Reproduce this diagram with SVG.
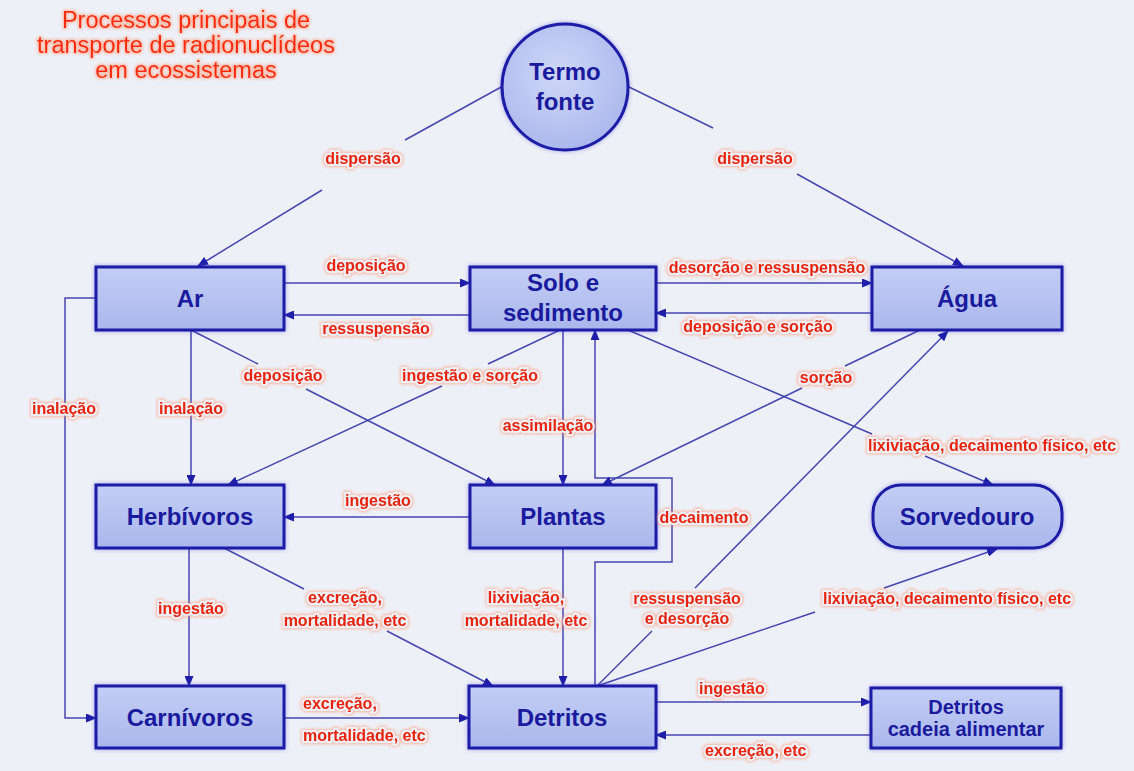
<svg xmlns="http://www.w3.org/2000/svg" width="1134" height="771" viewBox="0 0 1134 771">
<defs>
<linearGradient id="gBox" x1="0" y1="0" x2="0" y2="1">
<stop offset="0" stop-color="#c3cdf5"/>
<stop offset="1" stop-color="#aab7ec"/>
</linearGradient>
<radialGradient id="gCirc" cx="0.45" cy="0.4" r="0.65">
<stop offset="0" stop-color="#d0d8f8"/>
<stop offset="1" stop-color="#a9b6ec"/>
</radialGradient>
<filter id="glowB" x="-10%" y="-20%" width="120%" height="140%">
<feGaussianBlur in="SourceAlpha" stdDeviation="2" result="b"/>
<feFlood flood-color="#3a3ad0" flood-opacity="0.45"/>
<feComposite in2="b" operator="in" result="g"/>
<feMerge><feMergeNode in="g"/><feMergeNode in="SourceGraphic"/></feMerge>
</filter>
<filter id="glowR" x="-10%" y="-40%" width="120%" height="180%">
<feMorphology in="SourceAlpha" operator="dilate" radius="1" result="d"/>
<feGaussianBlur in="d" stdDeviation="1.6" result="b"/>
<feFlood flood-color="#ff8a60" flood-opacity="0.55"/>
<feComposite in2="b" operator="in" result="g"/>
<feMerge><feMergeNode in="g"/><feMergeNode in="SourceGraphic"/></feMerge>
</filter>
<marker id="arr" markerWidth="11" markerHeight="9" refX="10" refY="4.5" orient="auto" markerUnits="userSpaceOnUse">
<path d="M0,0 L11,4.5 L0,9 z" fill="#1e1ea8"/>
</marker>
<style>
.box{fill:url(#gBox);stroke:#1a1aa6;stroke-width:3;filter:url(#glowB)}
.nt{font-family:"Liberation Sans",Arial,sans-serif;font-weight:bold;font-size:24px;fill:#1a1a9e;text-anchor:middle}
.nts{font-family:"Liberation Sans",Arial,sans-serif;font-weight:bold;font-size:20px;fill:#1a1a9e;text-anchor:middle}
.c{fill:none;stroke:#4646b0;stroke-width:1.5}
.a{marker-end:url(#arr)}
.lb{font-family:"Liberation Sans",Arial,sans-serif;font-weight:bold;font-size:16px;fill:#e8240c;text-anchor:middle;stroke:#eef0f7;stroke-width:4;paint-order:stroke;filter:url(#glowR)}
.ls{text-anchor:start}
.tt{font-family:"Liberation Sans",Arial,sans-serif;font-size:23.5px;fill:#ff2a0a;text-anchor:middle;filter:url(#glowR)}
</style>
</defs>
<rect x="0" y="0" width="1134" height="771" fill="#eef0f7"/>

<g id="title">
<text class="tt" x="186" y="28">Processos principais de</text>
<text class="tt" x="186" y="53">transporte de radionuclídeos</text>
<text class="tt" x="186" y="78">em ecossistemas</text>
</g>

<g id="connectors">
<path class="c" d="M503,86 L405,140"/>
<path class="c a" d="M322,190 L198,266"/>
<path class="c" d="M627,86 L713,128"/>
<path class="c a" d="M797,174 L963,266"/>
<path class="c a" d="M284,283 L470,283"/>
<path class="c a" d="M470,315 L284,315"/>
<path class="c a" d="M656,283 L872,283"/>
<path class="c a" d="M872,313 L656,313"/>
<path class="c" d="M191,330 L258,364"/>
<path class="c a" d="M306,389 L495,485"/>
<path class="c" d="M560,330 L488,364"/>
<path class="c a" d="M442,386 L228,485"/>
<path class="c a" d="M191,330 L191,485"/>
<path class="c a" d="M96,298 L65,298 L65,718 L96,718"/>
<path class="c a" d="M563,330 L563,485"/>
<path class="c a" d="M595,686 L595,562 L672,562 L672,478 L595,478 L595,330"/>
<path class="c" d="M920,330 L845,366"/>
<path class="c a" d="M802,388 L602,485"/>
<path class="c" d="M628,330 L872,434"/>
<path class="c a" d="M925,456 L993,485"/>
<path class="c a" d="M470,517 L284,517"/>
<path class="c a" d="M189,548 L189,686"/>
<path class="c" d="M224,548 L304,589"/>
<path class="c a" d="M387,631 L493,686"/>
<path class="c a" d="M563,548 L563,686"/>
<path class="c" d="M597,686 L652,631"/>
<path class="c a" d="M695,588 L948,331"/>
<path class="c" d="M597,686 L815,612"/>
<path class="c a" d="M884,588 L997,549"/>
<path class="c a" d="M283,718 L469,718"/>
<path class="c a" d="M656,702 L871,702"/>
<path class="c a" d="M871,735 L656,735"/>
</g>

<g id="termo-fonte">
<circle cx="565" cy="87" r="63" fill="url(#gCirc)" stroke="#1a1aa6" stroke-width="3" filter="url(#glowB)"/>
<text class="nt" x="565" y="80">Termo</text>
<text class="nt" x="565" y="110">fonte</text>
</g>
<g id="ar">
<rect class="box" x="96" y="267" width="188" height="63"/>
<text class="nt" x="190" y="307">Ar</text>
</g>
<g id="solo">
<rect class="box" x="470" y="267" width="186" height="63"/>
<text class="nt" x="563" y="291">Solo e</text>
<text class="nt" x="563" y="321">sedimento</text>
</g>
<g id="agua">
<rect class="box" x="872" y="267" width="190" height="63"/>
<text class="nt" x="967" y="307">Água</text>
</g>
<g id="herbivoros">
<rect class="box" x="96" y="485" width="188" height="63"/>
<text class="nt" x="190" y="525">Herbívoros</text>
</g>
<g id="plantas">
<rect class="box" x="470" y="485" width="186" height="63"/>
<text class="nt" x="563" y="525">Plantas</text>
</g>
<g id="sorvedouro">
<rect class="box" x="873" y="485" width="189" height="63" rx="28" ry="28"/>
<text class="nt" x="967" y="525">Sorvedouro</text>
</g>
<g id="carnivoros">
<rect class="box" x="96" y="686" width="188" height="62"/>
<text class="nt" x="190" y="726">Carnívoros</text>
</g>
<g id="detritos">
<rect class="box" x="469" y="686" width="187" height="62"/>
<text class="nt" x="562" y="726">Detritos</text>
</g>
<g id="detritos-cadeia">
<rect class="box" x="871" y="688" width="190" height="60"/>
<text class="nts" x="966" y="714">Detritos</text>
<text class="nts" x="966" y="736">cadeia alimentar</text>
</g>

<g id="labels">
<text class="lb" x="363" y="164">dispersão</text>
<text class="lb" x="755" y="164">dispersão</text>
<text class="lb" x="366" y="271">deposição</text>
<text class="lb" x="376" y="334">ressuspensão</text>
<text class="lb" x="767" y="273">desorção e ressuspensão</text>
<text class="lb" x="758" y="332">deposição e sorção</text>
<text class="lb" x="283" y="381">deposição</text>
<text class="lb" x="470" y="381">ingestão e sorção</text>
<text class="lb" x="64" y="414">inalação</text>
<text class="lb" x="191" y="414">inalação</text>
<text class="lb" x="548" y="431">assimilação</text>
<text class="lb" x="826" y="383">sorção</text>
<text class="lb" x="992" y="451">lixiviação, decaimento físico, etc</text>
<text class="lb" x="378" y="506">ingestão</text>
<text class="lb" x="704" y="523">decaimento</text>
<text class="lb" x="191" y="614">ingestão</text>
<text class="lb" x="345" y="603">excreção,</text>
<text class="lb" x="345" y="626">mortalidade, etc</text>
<text class="lb" x="526" y="603">lixiviação,</text>
<text class="lb" x="526" y="626">mortalidade, etc</text>
<text class="lb" x="687" y="604">ressuspensão</text>
<text class="lb" x="687" y="624">e desorção</text>
<text class="lb" x="947" y="604">lixiviação, decaimento físico, etc</text>
<text class="lb ls" x="303" y="709">excreção,</text>
<text class="lb ls" x="303" y="741">mortalidade, etc</text>
<text class="lb ls" x="699" y="694">ingestão</text>
<text class="lb ls" x="705" y="756">excreção, etc</text>
</g>
</svg>
